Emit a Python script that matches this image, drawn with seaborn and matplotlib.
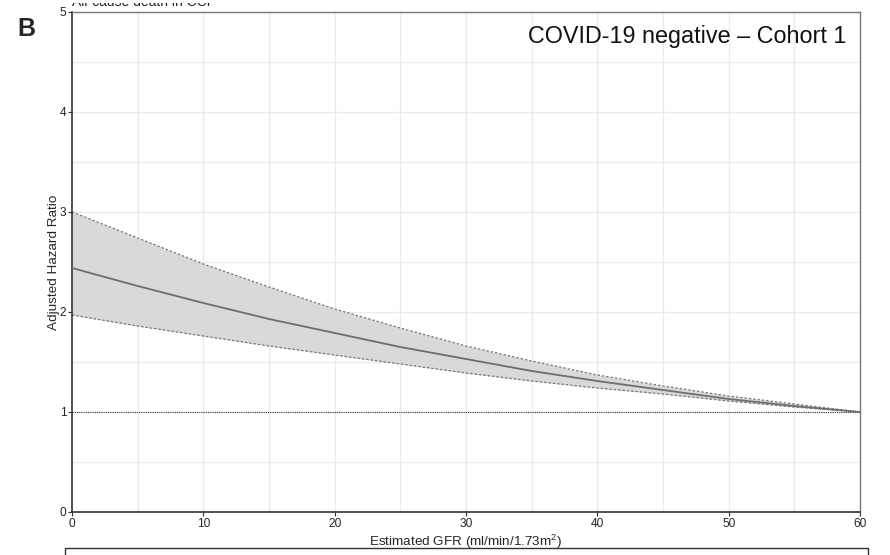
import matplotlib
matplotlib.use("Agg")
import matplotlib.pyplot as plt
import numpy as np
import pandas as pd
import seaborn as sns
from matplotlib.patches import Rectangle

# Estimated GFR vs adjusted hazard ratio
gfr = [0, 5, 10, 15, 20, 25, 30, 35, 40, 45, 50, 55, 60]
hazard_ratio = [2.44, 2.26, 2.09, 1.93, 1.79, 1.65, 1.53, 1.41, 1.31, 1.22, 1.13, 1.06, 1.00]
upper_ci = [3.00, 2.74, 2.48, 2.25, 2.03, 1.84, 1.66, 1.51, 1.37, 1.26, 1.16, 1.08, 1.00]
lower_ci = [1.97, 1.86, 1.76, 1.66, 1.57, 1.48, 1.39, 1.31, 1.24, 1.18, 1.11, 1.05, 1.00]

x_ticks = [0, 10, 20, 30, 40, 50, 60]
y_ticks = [0, 1, 2, 3, 4, 5]

title = "COVID-19 negative \u2013 Cohort 1"
tick_size = 8.6
label_size = 9.7


def main():
    sns.set_theme(style="white")
    plt.rcParams["font.family"] = ["Liberation Sans", "DejaVu Sans"]
    plt.rcParams["mathtext.fontset"] = "custom"
    plt.rcParams["mathtext.rm"] = "Liberation Sans"
    plt.rcParams["mathtext.it"] = "Liberation Sans:italic"

    df = pd.DataFrame({"gfr": gfr, "hr": hazard_ratio, "lo": lower_ci, "hi": upper_ci})

    fig = plt.figure(figsize=(8.9, 5.55), dpi=100)
    ax = fig.add_axes([72 / 890, 1 - 512 / 555, 788 / 890, 500 / 555])

    # grid every 5 GFR units and every 0.5 HR
    for v in np.arange(5, 60, 5):
        ax.axvline(v, color="#ebebeb", lw=1.0, zorder=0)
    for v in np.arange(0.5, 5, 0.5):
        ax.axhline(v, color="#ebebeb", lw=1.0, zorder=0)

    ax.fill_between(df["gfr"], df["lo"], df["hi"], color="#d9d9d9", lw=0, zorder=1)
    sns.lineplot(data=df, x="gfr", y="hi", ax=ax, color="#777777", lw=0.9,
                 linestyle=(0, (2, 1.5)), zorder=2)
    sns.lineplot(data=df, x="gfr", y="lo", ax=ax, color="#777777", lw=0.9,
                 linestyle=(0, (2, 1.5)), zorder=2)
    sns.lineplot(data=df, x="gfr", y="hr", ax=ax, color="#6e6e6e", lw=1.3, zorder=3)
    ax.axhline(1, color="#333333", lw=0.8, linestyle=(0, (1, 1)), zorder=2)

    ax.set_xlim(0, 60)
    ax.set_ylim(0, 5)
    ax.set_xticks(x_ticks)
    ax.set_yticks(y_ticks)
    ax.set_xlabel("Estimated GFR (ml/min/1.73m$^2$)", fontsize=label_size, labelpad=2)
    ax.set_ylabel("Adjusted Hazard Ratio", fontsize=label_size, labelpad=0)
    ax.tick_params(axis="both", labelsize=tick_size, length=3, width=0.8,
                   color="#333333", pad=1, bottom=True, left=True)

    for side in ["left", "bottom"]:
        ax.spines[side].set_color("#333333")
        ax.spines[side].set_linewidth(1.2)
    for side in ["top", "right"]:
        ax.spines[side].set_color("#777777")
        ax.spines[side].set_linewidth(1.0)

    ax.text(0.983, 0.938, title, transform=ax.transAxes, ha="right", va="baseline",
            fontsize=16.8, color="#111111")

    fig.text(17 / 890, 1 - 36 / 555, "B", fontsize=18, fontweight="bold",
             ha="left", va="baseline")
    # title of the panel above, cut off by the top edge
    fig.text(72 / 890, 1 - 6.5 / 555, "All-cause death in CCI", fontsize=10,
             ha="left", va="baseline", color="#222222")
    fig.patches.append(Rectangle((0, 1 - 3.3 / 555), 1, 3.3 / 555,
                                 transform=fig.transFigure, facecolor="white",
                                 edgecolor="none", zorder=10))

    # top edge of the next panel, cut off at the bottom of the figure
    fig.patches.append(Rectangle((65 / 890, -0.05), 803 / 890, 0.05 + 1 - 548 / 555,
                                 transform=fig.transFigure, fill=False,
                                 edgecolor="#333333", lw=1.0))

    fig.savefig("out.png", dpi=100)


if __name__ == "__main__":
    main()
